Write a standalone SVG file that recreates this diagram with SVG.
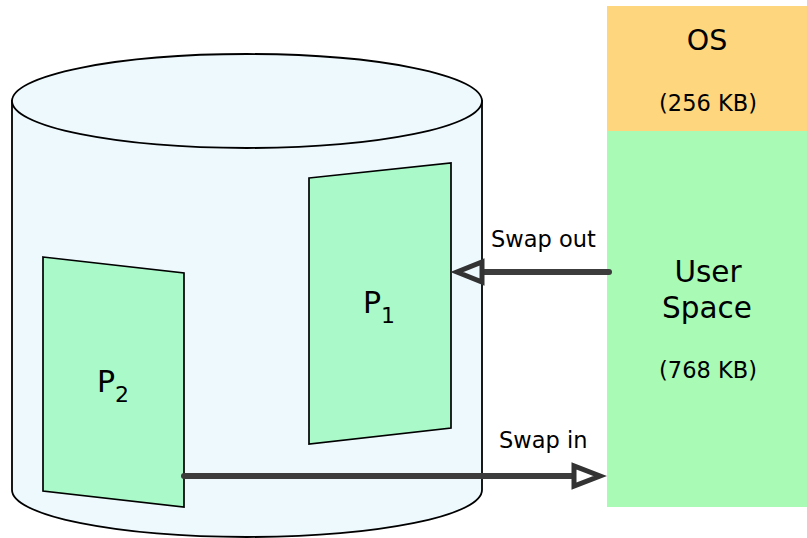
<svg xmlns="http://www.w3.org/2000/svg" width="807" height="538" viewBox="0 0 807 538">
  <style>
    .lbl { font-family: "DejaVu Sans", "Liberation Sans", sans-serif; fill: #000; text-anchor: middle; }
    .edge { font-family: "DejaVu Sans", "Liberation Sans", sans-serif; fill: #000; }
    .disk { fill: #eef9fe; stroke: #000; stroke-width: 1.8; }
    .proc { fill: #a9fac8; stroke: #000; stroke-width: 1.7; stroke-linejoin: miter; }
    .flow { fill: none; stroke: #3c3c3c; stroke-width: 6; stroke-linecap: round; }
    .head { fill: none; stroke: #333333; stroke-width: 5; stroke-linejoin: miter; }
  </style>

  <rect width="807" height="538" fill="#ffffff"/>

  <!-- swap disk -->
  <g id="disk">
    <path class="disk" d="M12,101 L12,490 A235,47 0 0 0 482,490 L482,101 Z"/>
    <ellipse class="disk" cx="247" cy="101" rx="235" ry="47"/>
  </g>

  <!-- process images on disk -->
  <g id="p1">
    <polygon class="proc" points="309,178 451,163 451,428 309,444"/>
    <text class="lbl" x="372" y="313" font-size="30">P</text>
    <text class="lbl" x="388" y="323" font-size="22">1</text>
  </g>
  <g id="p2">
    <polygon class="proc" points="43,257 184,273 184,507 43,491"/>
    <text class="lbl" x="106" y="392" font-size="30">P</text>
    <text class="lbl" x="122" y="402" font-size="22">2</text>
  </g>

  <!-- main memory -->
  <g id="os">
    <rect x="607" y="6" width="200" height="125" fill="#fdd67e"/>
    <text class="lbl" x="707" y="50" font-size="28.5">OS</text>
    <text class="lbl" x="708" y="111" font-size="22.5">(256 KB)</text>
  </g>
  <g id="user-space">
    <rect x="607" y="131" width="200" height="376" fill="#a9fab4"/>
    <text class="lbl" x="708" y="282" font-size="29.5">User</text>
    <text class="lbl" x="707" y="318" font-size="29.5">Space</text>
    <text class="lbl" x="708" y="378" font-size="22.5">(768 KB)</text>
  </g>

  <!-- connectors -->
  <g id="connectors">
    <g id="swap-out">
      <line class="flow" x1="609" y1="272" x2="484" y2="272"/>
      <polygon class="head" points="482,262 482,282 457,272"/>
      <text class="edge" x="491" y="247" font-size="22.5">Swap out</text>
    </g>
    <g id="swap-in">
      <line class="flow" x1="184" y1="476" x2="573" y2="476"/>
      <polygon class="head" points="574,466 574,486 600,476"/>
      <text class="edge" x="499" y="448" font-size="22.5">Swap in</text>
    </g>
  </g>
</svg>
